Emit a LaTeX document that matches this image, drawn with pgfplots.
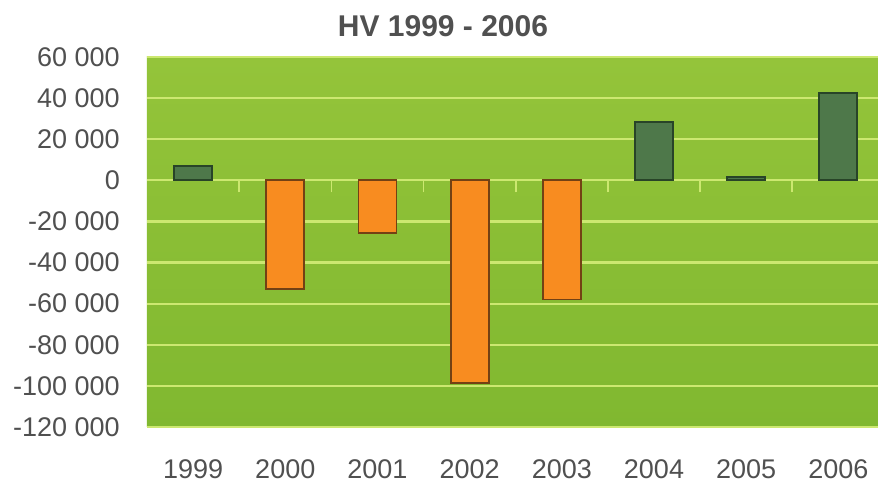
\documentclass[border=0pt]{standalone}
\usepackage{pgfplots}
\pgfplotsset{compat=1.18}
\usepackage{fontspec}
\setmainfont{Liberation Sans}
\definecolor{bgtop}{RGB}{148,196,58}
\definecolor{bgbot}{RGB}{128,184,48}
\definecolor{gridc}{RGB}{204,232,112}
\definecolor{poscol}{RGB}{78,120,74}
\definecolor{posedge}{RGB}{40,68,40}
\definecolor{negcol}{RGB}{248,140,32}
\definecolor{negedge}{RGB}{115,65,20}
\definecolor{txt}{RGB}{80,80,80}
\begin{document}
\begin{tikzpicture}
\useasboundingbox (-147bp,-56bp) rectangle (731bp,427bp);
\begin{axis}[
  at={(0,0)}, anchor=south west,
  scale only axis, width=731bp, height=370bp,
  xmin=-0.5, xmax=7.43,
  ymin=-120000, ymax=60000,
  ytick={-120000,-100000,-80000,-60000,-40000,-20000,0,20000,40000,60000},
  yticklabels={-120 000,-100 000,-80 000,-60 000,-40 000,-20 000,0,20 000,40 000,60 000},
  xtick={0,...,7},
  xticklabels={1999,2000,2001,2002,2003,2004,2005,2006},
  axis line style={draw=none},
  major tick length=0pt,
  tick style={draw=none},
  ymajorgrids,
  grid style={draw=gridc, line width=2.2bp},
  axis background/.style={shade, top color=bgtop, bottom color=bgbot},
  scaled y ticks=false,
  ticklabel style={font=\fontsize{27bp}{32bp}\selectfont, text=txt},
  yticklabel style={anchor=east, inner sep=0pt, xshift=-27bp},
  xticklabel style={anchor=base, inner sep=0pt, yshift=-51bp},
  ybar, bar width=38bp, bar shift=0pt,
  clip=false,
]
\addplot[fill=poscol, draw=posedge, line width=1.8bp] coordinates {(0,7000) (5,28300) (6,1600) (7,42400)};
\addplot[fill=negcol, draw=negedge, line width=1.8bp] coordinates {(1,-52800) (2,-25500) (3,-98600) (4,-58000)};
\end{axis}
\begin{axis}[
  at={(0,0)}, anchor=south west,
  scale only axis, width=731bp, height=370bp,
  xmin=-0.5, xmax=7.43,
  ymin=-120000, ymax=60000,
  axis x line=middle, axis y line=none,
  x axis line style={draw=none},
  xtick={0.5,1.5,...,6.5}, xticklabels={},
  ytick=\empty,
  xtick align=outside,
  major tick length=12bp,
  xtick style={draw=gridc, line width=1.6bp},
]
\end{axis}
\node[anchor=base, font=\fontsize{30bp}{36bp}\selectfont\bfseries, text=txt] at (296bp,390bp) {HV 1999 - 2006};
\end{tikzpicture}
\end{document}
